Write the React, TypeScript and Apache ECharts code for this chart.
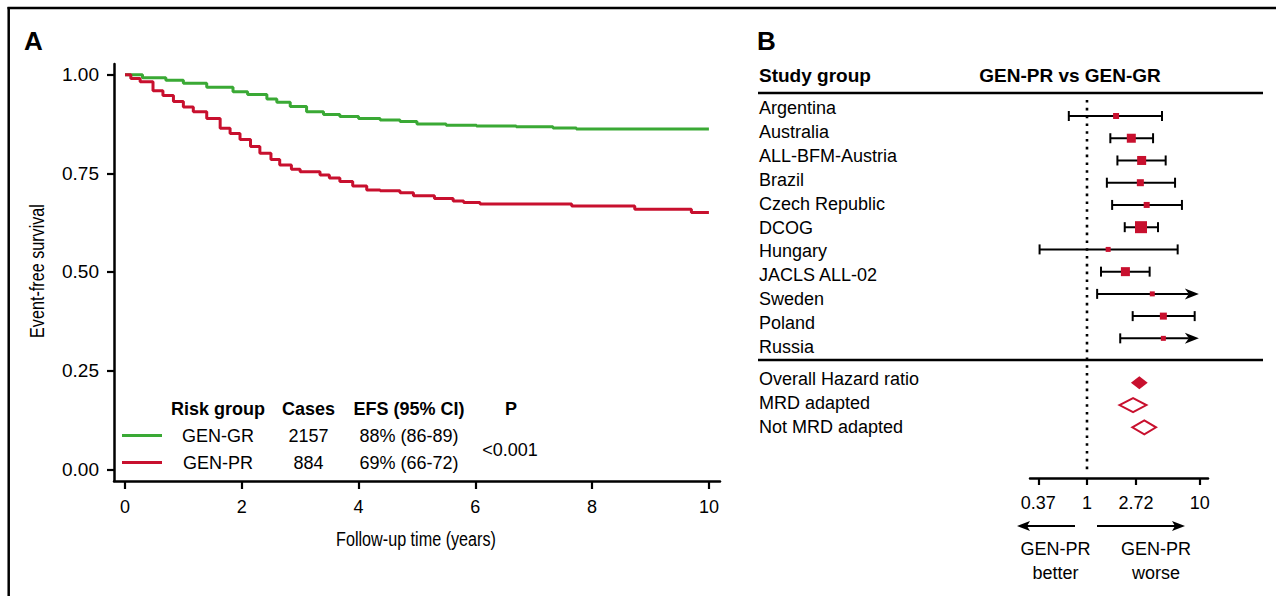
import React, { useEffect, useRef } from "react";
import * as echarts from "echarts";

// ---------- Panel A: Kaplan-Meier data ----------
const grTime = [0, 0.3, 0.7, 1.0, 1.4, 1.85, 2.1, 2.43, 2.6, 2.83, 3.11, 3.4, 3.68, 4.0, 4.37, 4.71, 5.0, 5.5, 6.02, 6.7, 7.33, 7.73, 10];
const grEfs = [1.0, 0.992, 0.986, 0.978, 0.968, 0.957, 0.95, 0.938, 0.93, 0.919, 0.906, 0.899, 0.894, 0.889, 0.885, 0.881, 0.875, 0.872, 0.87, 0.868, 0.865, 0.862, 0.862];
const prTime = [0, 0.1, 0.26, 0.48, 0.65, 0.83, 1.0, 1.17, 1.4, 1.63, 1.8, 1.97, 2.15, 2.31, 2.5, 2.65, 2.85, 3.0, 3.34, 3.5, 3.68, 3.9, 4.14, 4.37, 4.71, 4.94, 5.3, 5.62, 5.8, 6.08, 7.65, 8.73, 9.7, 10];
const prEfs = [1.0, 0.99, 0.982, 0.959, 0.947, 0.932, 0.918, 0.906, 0.889, 0.864, 0.851, 0.836, 0.818, 0.801, 0.785, 0.771, 0.76, 0.754, 0.746, 0.738, 0.729, 0.718, 0.708, 0.706, 0.701, 0.693, 0.686, 0.68, 0.676, 0.672, 0.667, 0.659, 0.651, 0.651];
const timeTicks = [0, 2, 4, 6, 8, 10];
const efsTicks = [0, 0.25, 0.5, 0.75, 1.0];

const tableHeader = ["Risk group", "Cases", "EFS (95% CI)", "P"];
const riskGroups = ["GEN-GR", "GEN-PR"];
const cases = ["2157", "884"];
const efsCi = ["88% (86-89)", "69% (66-72)"];
const pValue = "<0.001";

// ---------- Panel B: forest plot data ----------
const studies = ["Argentina", "Australia", "ALL-BFM-Austria", "Brazil", "Czech Republic", "DCOG", "Hungary", "JACLS ALL-02", "Sweden", "Poland", "Russia"];
const hr = [1.81, 2.47, 3.05, 2.97, 3.38, 3.01, 1.54, 2.19, 3.79, 4.75, 4.75];
const hrLower = [0.69, 1.61, 1.86, 1.5, 1.67, 2.16, 0.38, 1.33, 1.23, 2.54, 1.97];
const hrUpper = [4.62, 3.85, 4.98, 6.03, 6.94, 4.26, 6.36, 3.59, 13.5, 9.0, 12.5];
const studyWeight = [6, 9, 9, 7, 6, 12, 5, 9, 5, 7, 5];
const summaryLabels = ["Overall Hazard ratio", "MRD adapted", "Not MRD adapted"];
const summaryHr = [2.91, 2.56, 3.22];
const summaryLower = [2.45, 1.94, 2.52];
const summaryUpper = [3.45, 3.36, 4.09];
const summaryFilled = [1, 0, 0];
const hrTickValues = [0.37, 1, 2.72, 10];
const hrTickLabels = ["0.37", "1", "2.72", "10"];
const hrTruncate = 9.8;

const GREEN = "#3aa935";
const RED = "#c8102e";
const FONT = "'Liberation Sans', Arial, Helvetica, sans-serif";

function txt(text: string, x: number, y: number, opts: any = {}) {
  const align = opts.align || "left";
  return {
    type: "text",
    x,
    y,
    rotation: opts.rotation || 0,
    scaleX: opts.scaleX || 1,
    silent: true,
    style: {
      text,
      x: 0,
      y: 0,
      fill: "#000",
      fontSize: opts.size || 18,
      fontWeight: opts.bold ? "bold" : "normal",
      fontFamily: FONT,
      align,
      textAlign: align,
      verticalAlign: "middle",
      textVerticalAlign: "middle",
    },
  };
}

function hline(x1: number, x2: number, y: number, w = 2) {
  return { type: "line", silent: true, shape: { x1, y1: y, x2, y2: y }, style: { stroke: "#000", lineWidth: w } };
}

export default function App() {
  const ref = useRef<HTMLDivElement>(null);

  useEffect(() => {
    document.body.style.margin = "0";
    const chart = echarts.init(ref.current!, null, { renderer: "svg" });

    const ln = Math.log;
    const lnTicks = hrTickValues.map((v) => ln(v));

    const ciData = studies.map((_, i) => {
      const arrow = hrUpper[i] > hrTruncate ? 1 : 0;
      return [ln(hrLower[i]), ln(arrow ? hrTruncate : hrUpper[i]), i, arrow];
    });
    const boxData = studies.map((_, i) => [ln(hr[i]), i, studyWeight[i]]);
    const diamondData = summaryLabels.map((_, i) => [
      ln(summaryLower[i]),
      ln(summaryHr[i]),
      ln(summaryUpper[i]),
      studies.length + 1 + i,
      summaryFilled[i],
    ]);

    const graphics: any[] = [];
    // frame
    graphics.push(hline(7.5, 1276, 8, 2.5));
    graphics.push({ type: "line", silent: true, shape: { x1: 8.7, y1: 7, x2: 8.7, y2: 596 }, style: { stroke: "#000", lineWidth: 2.5 } });
    // panel letters
    graphics.push(txt("A", 24, 41, { size: 26, bold: true }));
    graphics.push(txt("B", 757, 41, { size: 26, bold: true }));
    // axis titles A (condensed)
    graphics.push(txt("Event-free survival", 37, 271, { size: 21, align: "center", rotation: Math.PI / 2, scaleX: 0.77 }));
    graphics.push(txt("Follow-up time (years)", 416, 539, { size: 21, align: "center", scaleX: 0.77 }));
    // table in A
    const colX = [218, 308.5, 409, 511];
    tableHeader.forEach((h, i) => graphics.push(txt(h, colX[i], 409, { bold: true, align: "center" })));
    riskGroups.forEach((g, r) => {
      const y = 436 + r * 27;
      graphics.push({
        type: "line",
        silent: true,
        shape: { x1: 122, y1: y - 0.5, x2: 162, y2: y - 0.5 },
        style: { stroke: r === 0 ? GREEN : RED, lineWidth: 3 },
      });
      graphics.push(txt(g, colX[0], y, { align: "center" }));
      graphics.push(txt(cases[r], colX[1], y, { align: "center" }));
      graphics.push(txt(efsCi[r], colX[2], y, { align: "center" }));
    });
    graphics.push(txt(pValue, 510, 450, { align: "center" }));

    // panel B header
    graphics.push(txt("Study group", 759, 75, { size: 19, bold: true }));
    graphics.push(txt("GEN-PR vs GEN-GR", 1070, 75, { size: 19, bold: true, align: "center" }));
    graphics.push(hline(758, 1263, 93, 2.5));
    graphics.push(hline(758, 1263, 360, 2.5));
    studies.forEach((s, i) => graphics.push(txt(s, 759, 108 + 23.9 * i)));
    summaryLabels.forEach((s, i) => graphics.push(txt(s, 759, 378.5 + 24 * i)));

    // direction arrows below forest axis
    graphics.push({ type: "line", silent: true, shape: { x1: 1075, y1: 526, x2: 1026, y2: 526 }, style: { stroke: "#000", lineWidth: 2 } });
    graphics.push({ type: "polygon", silent: true, shape: { points: [[1017, 526], [1030, 521], [1027, 526], [1030, 531]] }, style: { fill: "#000" } });
    graphics.push({ type: "line", silent: true, shape: { x1: 1097, y1: 526, x2: 1176, y2: 526 }, style: { stroke: "#000", lineWidth: 2 } });
    graphics.push({ type: "polygon", silent: true, shape: { points: [[1185, 526], [1172, 521], [1175, 526], [1172, 531]] }, style: { fill: "#000" } });
    graphics.push(txt("GEN-PR", 1055.5, 548.5, { align: "center" }));
    graphics.push(txt("better", 1055.5, 573, { align: "center" }));
    graphics.push(txt("GEN-PR", 1156, 548.5, { align: "center" }));
    graphics.push(txt("worse", 1156, 573, { align: "center" }));

    const axisLine = { show: true, onZero: false, lineStyle: { color: "#000", width: 2.5 } };
    const tickStyle = { color: "#000", width: 2.2 };

    const option: any = {
      animation: false,
      backgroundColor: "#fff",
      textStyle: { fontFamily: FONT },
      grid: [
        { left: 114, top: 64, width: 606, height: 417 },
        { left: 1030, top: 93, width: 178, height: 385 },
      ],
      xAxis: [
        {
          gridIndex: 0,
          type: "value",
          position: "bottom",
          min: -0.188,
          max: 10.19,
          axisLine,
          splitLine: { show: false },
          axisTick: { show: true, customValues: timeTicks, length: 8, lineStyle: tickStyle },
          axisLabel: { show: true, customValues: timeTicks, fontSize: 18, color: "#000", margin: 17, fontFamily: FONT },
        },
        {
          gridIndex: 1,
          type: "value",
          position: "bottom",
          min: -1.163,
          max: 2.469,
          axisLine,
          splitLine: { show: false },
          axisTick: { show: true, customValues: lnTicks, length: 7, lineStyle: tickStyle },
          axisLabel: {
            show: true,
            customValues: lnTicks,
            fontSize: 18,
            color: "#000",
            margin: 16,
            fontFamily: FONT,
            formatter: (v: number) => {
              let best = 0;
              lnTicks.forEach((t, i) => {
                if (Math.abs(t - v) < Math.abs(lnTicks[best] - v)) best = i;
              });
              return hrTickLabels[best];
            },
          },
        },
      ],
      yAxis: [
        {
          gridIndex: 0,
          type: "value",
          position: "left",
          min: -0.0296,
          max: 1.027,
          axisLine,
          splitLine: { show: false },
          axisTick: { show: true, customValues: efsTicks, length: 7, lineStyle: tickStyle },
          axisLabel: {
            show: true,
            customValues: efsTicks,
            fontSize: 19,
            color: "#000",
            margin: 15,
            fontFamily: FONT,
            formatter: (v: number) => v.toFixed(2),
          },
        },
        {
          gridIndex: 1,
          type: "value",
          min: -1.034,
          max: 16.28,
          inverse: true,
          axisLine: { show: false },
          axisTick: { show: false },
          axisLabel: { show: false },
          splitLine: { show: false },
        },
      ],
      series: [
        {
          type: "line",
          xAxisIndex: 0,
          yAxisIndex: 0,
          step: "end",
          showSymbol: false,
          symbol: "none",
          data: grTime.map((t, i) => [t, grEfs[i]]),
          lineStyle: { color: GREEN, width: 3 },
        },
        {
          type: "line",
          xAxisIndex: 0,
          yAxisIndex: 0,
          step: "end",
          showSymbol: false,
          symbol: "none",
          data: prTime.map((t, i) => [t, prEfs[i]]),
          lineStyle: { color: RED, width: 3 },
        },
        {
          type: "line",
          xAxisIndex: 1,
          yAxisIndex: 1,
          showSymbol: false,
          symbol: "none",
          data: [
            [0, -0.72],
            [0, 15.92],
          ],
          lineStyle: { color: "#000", width: 2.6, type: [2.6, 5.2] },
        },
        {
          type: "custom",
          xAxisIndex: 1,
          yAxisIndex: 1,
          data: ciData,
          renderItem: (params: any, api: any) => {
            const lo = api.value(0);
            const hi = api.value(1);
            const row = api.value(2);
            const arrow = api.value(3);
            const p1 = api.coord([lo, row]);
            const p2 = api.coord([hi, row]);
            const y = p1[1];
            const st = { stroke: "#000", lineWidth: 2 };
            const children: any[] = [
              { type: "line", shape: { x1: p1[0], y1: y, x2: arrow ? p2[0] - 10 : p2[0], y2: y }, style: st },
              { type: "line", shape: { x1: p1[0], y1: y - 5, x2: p1[0], y2: y + 5 }, style: st },
            ];
            if (arrow) {
              children.push({
                type: "polygon",
                shape: { points: [[p2[0], y], [p2[0] - 14, y - 5.5], [p2[0] - 10, y], [p2[0] - 14, y + 5.5]] },
                style: { fill: "#000" },
              });
            } else {
              children.push({ type: "line", shape: { x1: p2[0], y1: y - 5, x2: p2[0], y2: y + 5 }, style: st });
            }
            return { type: "group", children };
          },
        },
        {
          type: "custom",
          xAxisIndex: 1,
          yAxisIndex: 1,
          data: boxData,
          renderItem: (params: any, api: any) => {
            const c = api.coord([api.value(0), api.value(1)]);
            const s = api.value(2);
            return { type: "rect", shape: { x: c[0] - s / 2, y: c[1] - s / 2, width: s, height: s }, style: { fill: RED } };
          },
        },
        {
          type: "custom",
          xAxisIndex: 1,
          yAxisIndex: 1,
          data: diamondData,
          renderItem: (params: any, api: any) => {
            const row = api.value(3);
            const filled = api.value(4);
            const l = api.coord([api.value(0), row]);
            const m = api.coord([api.value(1), row]);
            const r = api.coord([api.value(2), row]);
            const h = filled ? 6.5 : 7;
            return {
              type: "polygon",
              shape: { points: [[l[0], l[1]], [m[0], m[1] - h], [r[0], r[1]], [m[0], m[1] + h]] },
              style: filled ? { fill: RED } : { fill: "#fff", stroke: RED, lineWidth: 2 },
            };
          },
        },
      ],
      graphic: graphics,
    };

    chart.setOption(option);
    return () => chart.dispose();
  }, []);

  return <div ref={ref} style={{ position: "absolute", left: 0, top: 0, width: 1276, height: 596 }} />;
}
